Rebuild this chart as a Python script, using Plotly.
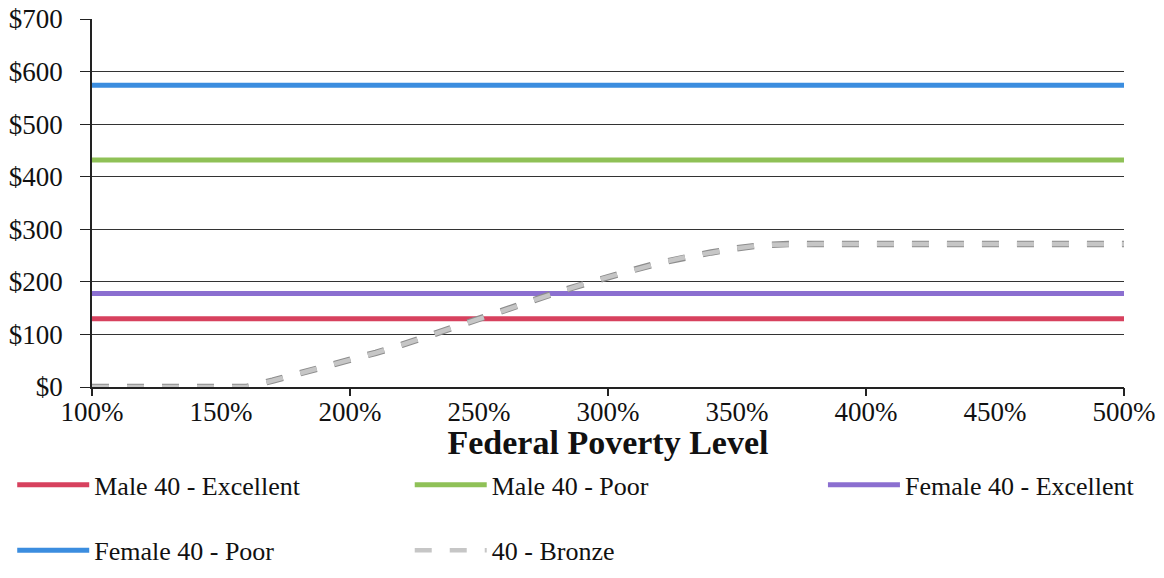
import plotly.graph_objects as go

# Federal poverty level (%) sample points
fpl = [100, 110, 120, 130, 140, 150, 160, 170, 180, 190, 200, 210, 220, 230, 240,
       250, 260, 270, 280, 290, 300, 310, 320, 330, 340, 350, 360, 370, 380, 390,
       400, 410, 420, 430, 440, 450, 460, 470, 480, 490, 500]

# Monthly premium (USD) by profile, flat across income
male_excellent = [130] * len(fpl)
male_poor = [432] * len(fpl)
female_excellent = [178] * len(fpl)
female_poor = [574] * len(fpl)

# Bronze plan premium after subsidy
bronze = [0, 0, 0, 0, 0, 0, 0, 12, 25, 37, 50, 65, 80, 96, 112,
          128, 146, 163, 180, 195, 209, 223, 236, 247, 256, 264, 270, 272, 272, 272,
          272, 272, 272, 272, 272, 272, 272, 272, 272, 272, 272]

x_tick_vals = [100, 150, 200, 250, 300, 350, 400, 450, 500]
x_tick_text = ["100%", "150%", "200%", "250%", "300%", "350%", "400%", "450%", "500%"]
x_major_ticks = [100, 200, 300, 400, 500]
y_tick_vals = [0, 100, 200, 300, 400, 500, 600, 700]
y_tick_text = ["$0", "$100", "$200", "$300", "$400", "$500", "$600", "$700"]

FONT = "Liberation Serif, Times New Roman, serif"
BRONZE_DASH = "17px,18px"

fig = go.Figure()

solid = [
    ("Male 40 - Excellent", male_excellent, "#d7415e", "legend"),
    ("Male 40 - Poor", male_poor, "#8fc157", "legend2"),
    ("Female 40 - Excellent", female_excellent, "#8b6fd0", "legend3"),
    ("Female 40 - Poor", female_poor, "#3b8ddf", "legend4"),
]
for name, vals, color, leg in solid:
    fig.add_trace(go.Scatter(x=fpl, y=vals, mode="lines", name=name,
                             line=dict(color=color, width=5), legend=leg))

# darker rim under the bronze dashes
fig.add_trace(go.Scatter(x=fpl, y=bronze, mode="lines", showlegend=False,
                         line=dict(color="#8d8d8d", width=6.5, dash=BRONZE_DASH),
                         hoverinfo="skip"))
fig.add_trace(go.Scatter(x=fpl, y=bronze, mode="lines", name="40 - Bronze",
                         line=dict(color="#c6c6c6", width=4.5, dash=BRONZE_DASH),
                         legend="legend5"))

# invisible trace carrying the secondary x-axis with major tick marks
fig.add_trace(go.Scatter(x=[100, 500], y=[0, 0], xaxis="x2", mode="lines",
                         line=dict(width=0), showlegend=False, hoverinfo="skip"))


def legend_box(x, y):
    return dict(orientation="h", xref="container", yref="container", x=x, y=y,
                xanchor="left", yanchor="middle", itemwidth=72,
                font=dict(family=FONT, size=26, color="#111111"),
                bgcolor="rgba(0,0,0,0)")


fig.update_layout(
    width=1164, height=578,
    paper_bgcolor="white", plot_bgcolor="white",
    margin=dict(l=92, r=40, t=19, b=191, autoexpand=False),
    font=dict(family=FONT, size=27, color="#111111"),
    xaxis=dict(
        range=[100, 500], tickmode="array", tickvals=x_tick_vals, ticktext=x_tick_text,
        showgrid=False, zeroline=False, showline=True, linecolor="#222222", linewidth=1.5,
        ticks="", ticklabelstandoff=0, automargin=False,
        tickfont=dict(family=FONT, size=27),
        title=dict(text="<b>Federal Poverty Level</b>", font=dict(family=FONT, size=34),
                   standoff=11),
    ),
    xaxis2=dict(
        range=[100, 500], overlaying="x", side="bottom", tickmode="array",
        tickvals=x_major_ticks, showticklabels=False, ticks="outside", ticklen=8,
        tickcolor="#222222", tickwidth=1.5, showgrid=False, zeroline=False, showline=False,
        automargin=False,
    ),
    yaxis=dict(
        range=[0, 700], tickmode="array", tickvals=y_tick_vals, ticktext=y_tick_text,
        showgrid=True, gridcolor="#333333", gridwidth=1.4, zeroline=False,
        showline=True, linecolor="#222222", linewidth=1.5, automargin=False,
        ticks="outside", ticklen=10, tickcolor="#222222", tickwidth=1.2,
        ticklabelstandoff=12, tickfont=dict(family=FONT, size=27),
    ),
    legend=legend_box(0.0105, 0.161),
    legend2=legend_box(0.352, 0.161),
    legend3=legend_box(0.707, 0.161),
    legend4=legend_box(0.0105, 0.048),
    legend5=legend_box(0.352, 0.048),
    showlegend=True,
)

fig.write_html("out.html")
